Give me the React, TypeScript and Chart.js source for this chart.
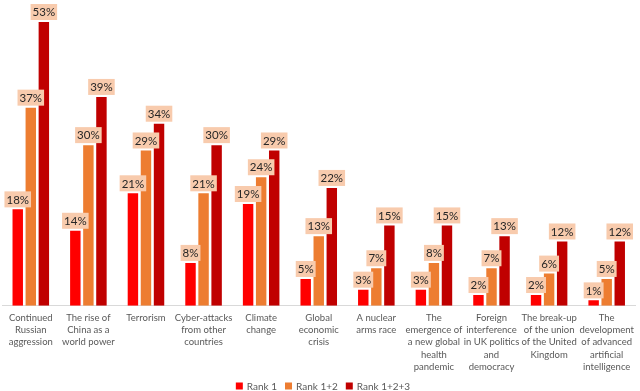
import React, { useEffect, useRef } from "react";
import { Chart, registerables } from "chart.js";

Chart.register(...registerables);

const categories: string[][] = [
  ["Continued", "Russian", "aggression"],
  ["The rise of", "China as a", "world power"],
  ["Terrorism"],
  ["Cyber-attacks", "from other", "countries"],
  ["Climate", "change"],
  ["Global", "economic", "crisis"],
  ["A nuclear", "arms race"],
  ["The", "emergence of", "a new global", "health", "pandemic"],
  ["Foreign", "interference", "in UK politics", "and", "democracy"],
  ["The break-up", "of the union", "of the United", "Kingdom"],
  ["The", "development", "of advanced", "artificial", "intelligence"],
];

const rank1 = [18, 14, 21, 8, 19, 5, 3, 3, 2, 2, 1];
const rank12 = [37, 30, 29, 21, 24, 13, 7, 8, 7, 6, 5];
const rank123 = [53, 39, 34, 30, 29, 22, 15, 15, 13, 12, 12];

const seriesNames = ["Rank 1", "Rank 1+2", "Rank 1+2+3"];
const seriesColors = ["#FF0000", "#ED7D31", "#C00000"];

const FONT = "Lato, 'Open Sans', sans-serif";

const labelPlugin = {
  id: "boxLabels",
  afterDatasetsDraw(chart: any) {
    const ctx = chart.ctx;
    ctx.save();
    ctx.font = `11.5px ${FONT}`;
    ctx.textAlign = "center";
    ctx.textBaseline = "middle";
    chart.data.datasets.forEach((ds: any, di: number) => {
      const meta = chart.getDatasetMeta(di);
      meta.data.forEach((el: any, i: number) => {
        const txt = Math.round(ds.data[i]) + "%";
        const w = ctx.measureText(txt).width + 4;
        const h = 16;
        const bottom = el.y - 2;
        ctx.fillStyle = "#F8CBAD";
        ctx.fillRect(el.x - w / 2, bottom - h, w, h);
        ctx.fillStyle = "#262626";
        ctx.fillText(txt, el.x, bottom - h / 2 + 0.5);
      });
    });
    ctx.restore();
  },
};

const legendPlugin = {
  id: "bottomLegend",
  afterDraw(chart: any) {
    const ctx = chart.ctx;
    ctx.save();
    ctx.font = `10px ${FONT}`;
    ctx.textBaseline = "middle";
    ctx.textAlign = "left";
    const box = 7;
    const gap = 4;
    const spacing = 8;
    const items = chart.data.datasets.map((ds: any) => ({
      label: ds.label,
      color: ds.backgroundColor,
      w: box + gap + ctx.measureText(ds.label).width,
    }));
    const total = items.reduce((s: number, it: any) => s + it.w, 0) + spacing * (items.length - 1);
    let x = chart.width / 2 + 3 - total / 2;
    const y = chart.height - 5;
    items.forEach((it: any) => {
      ctx.fillStyle = it.color;
      ctx.fillRect(x, y - box / 2, box, box);
      ctx.fillStyle = "#595959";
      ctx.fillText(it.label, x + box + gap, y + 0.5);
      x += it.w + spacing;
    });
    ctx.restore();
  },
};

export default function App() {
  const ref = useRef<HTMLCanvasElement | null>(null);
  useEffect(() => {
    if (!ref.current) return;
    const datasets = [rank1, rank12, rank123].map((d, i) => ({
      label: seriesNames[i],
      data: d,
      backgroundColor: seriesColors[i],
      categoryPercentage: 0.68,
      barPercentage: 0.8,
    }));
    const chart = new Chart(ref.current, {
      type: "bar",
      data: { labels: categories, datasets },
      plugins: [labelPlugin, legendPlugin],
      options: {
        animation: false,
        responsive: false,
        maintainAspectRatio: false,
        layout: { padding: { top: 22, left: 2, right: 2, bottom: 12 } },
        plugins: {
          tooltip: { enabled: false },
          legend: { display: false },
        },
        scales: {
          x: {
            grid: { display: false, drawTicks: false },
            border: { color: "#D9D9D9" },
            ticks: {
              maxRotation: 0,
              autoSkip: false,
              padding: 6,
              color: "#595959",
              font: { family: FONT, size: 9.5, lineHeight: 1.29 },
            },
          },
          y: {
            display: false,
            min: 0,
            max: 53,
          },
        },
      },
    });
    return () => chart.destroy();
  }, []);
  return (
    <div style={{ position: "fixed", left: 0, top: 0, width: 640, height: 391, background: "#fff" }}>
      <canvas ref={ref} width={640} height={391} />
    </div>
  );
}
